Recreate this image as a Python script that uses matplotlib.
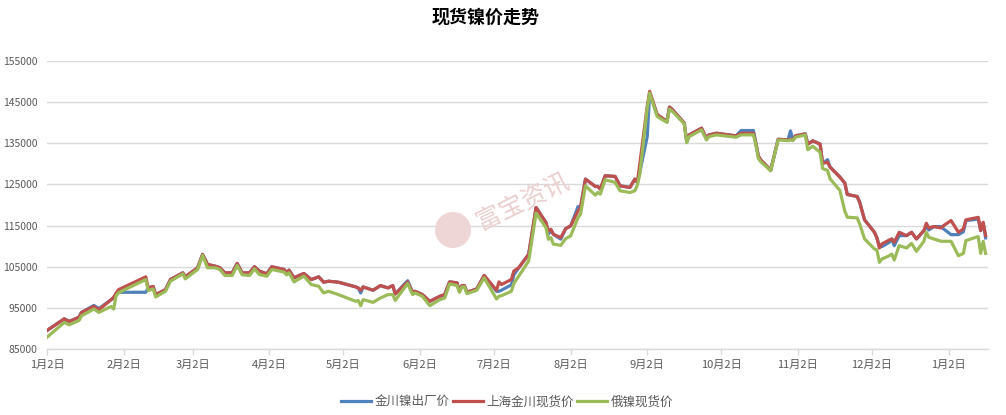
import pandas as pd
import matplotlib
matplotlib.use('Agg')
import matplotlib.pyplot as plt
from matplotlib.patches import Circle

plt.rcParams['font.family'] = ['Noto Sans CJK SC', 'DejaVu Sans']

# trading days
dates = [
    '2019-01-02', '2019-01-09', '2019-01-11', '2019-01-15', '2019-01-16', '2019-01-21', '2019-01-23',
    '2019-01-28', '2019-01-29', '2019-01-30', '2019-01-31', '2019-02-11', '2019-02-12', '2019-02-14',
    '2019-02-15', '2019-02-19', '2019-02-21', '2019-02-26', '2019-02-27', '2019-03-04', '2019-03-06',
    '2019-03-08', '2019-03-11', '2019-03-13', '2019-03-15', '2019-03-18', '2019-03-20', '2019-03-22',
    '2019-03-25', '2019-03-27', '2019-03-29', '2019-04-01', '2019-04-03', '2019-04-08', '2019-04-09',
    '2019-04-10', '2019-04-12', '2019-04-16', '2019-04-19', '2019-04-22', '2019-04-24', '2019-04-26',
    '2019-04-30', '2019-05-07', '2019-05-08', '2019-05-09', '2019-05-10', '2019-05-14', '2019-05-17',
    '2019-05-20', '2019-05-22', '2019-05-23', '2019-05-28', '2019-05-30', '2019-05-31', '2019-06-03',
    '2019-06-06', '2019-06-10', '2019-06-12', '2019-06-14', '2019-06-17', '2019-06-18', '2019-06-19',
    '2019-06-20', '2019-06-21', '2019-06-25', '2019-06-28', '2019-07-03', '2019-07-04', '2019-07-05',
    '2019-07-09', '2019-07-10', '2019-07-12', '2019-07-16', '2019-07-19', '2019-07-23', '2019-07-24',
    '2019-07-25', '2019-07-26', '2019-07-29', '2019-07-31', '2019-08-02', '2019-08-05', '2019-08-06',
    '2019-08-08', '2019-08-12', '2019-08-13', '2019-08-14', '2019-08-16', '2019-08-20', '2019-08-22',
    '2019-08-26', '2019-08-28', '2019-08-29', '2019-08-30', '2019-09-02', '2019-09-03', '2019-09-06',
    '2019-09-10', '2019-09-11', '2019-09-12', '2019-09-17', '2019-09-18', '2019-09-19', '2019-09-24',
    '2019-09-26', '2019-09-27', '2019-09-30', '2019-10-08', '2019-10-10', '2019-10-15', '2019-10-16',
    '2019-10-17', '2019-10-18', '2019-10-22', '2019-10-25', '2019-10-29', '2019-10-30', '2019-10-31',
    '2019-11-01', '2019-11-05', '2019-11-06', '2019-11-08', '2019-11-11', '2019-11-12', '2019-11-14',
    '2019-11-15', '2019-11-19', '2019-11-21', '2019-11-22', '2019-11-26', '2019-11-27', '2019-11-29',
    '2019-12-03', '2019-12-04', '2019-12-05', '2019-12-06', '2019-12-09', '2019-12-10', '2019-12-11',
    '2019-12-13', '2019-12-16', '2019-12-18', '2019-12-20', '2019-12-23', '2019-12-24', '2019-12-25',
    '2019-12-27', '2019-12-30', '2019-12-31', '2020-01-03', '2020-01-06', '2020-01-08', '2020-01-09',
    '2020-01-13', '2020-01-14', '2020-01-15', '2020-01-16', '2020-01-17',
]

# 上海金川现货价
shanghai = [
    89490, 92340, 91690, 92750, 93900, 95360, 94550,
    97000, 97600, 98600, 99440, 102540, 99850, 100200,
    98200, 99440, 101900, 103520, 102540, 104750, 108010,
    105560, 105150, 104750, 103520, 103520, 105800, 103520,
    103520, 105000, 103930, 103280, 104990, 104340, 103520,
    104180, 102300, 103360, 101890, 102540, 101240, 101480,
    101240, 100100, 99850, 99280, 100100, 99280, 100420,
    99850, 100420, 98380, 101320, 98790, 99030, 98220,
    96590, 97810, 98220, 101320, 101080, 99030, 100420,
    100420, 98790, 99610, 102870, 99280, 101320, 100670,
    101890, 103940, 104760, 108010, 119390, 115730, 113700,
    114100, 112890, 112070, 114270, 114920, 118580, 119390,
    126300, 124510, 124510, 123860, 127110, 126950, 124670,
    124270, 126300, 125490, 130000, 144000, 147650, 142000,
    140300, 143810, 143320, 139900, 135410, 137040, 138670,
    136220, 137040, 137450, 136800, 137450, 137450, 135000,
    131900, 130920, 128470, 135980, 135820, 136000, 135820,
    136800, 137290, 134760, 135600, 134800, 130100, 130450,
    129230, 126800, 125330, 122560, 122070, 120690, 116380,
    113370, 112000, 109550, 110530, 111500, 111750, 110940,
    113370, 112560, 113370, 111750, 113780, 115570, 114430,
    114760, 114430, 115000, 116220, 113370, 114190, 116380,
    116870, 117000, 113780, 115810, 112560,
]

# 金川镍出厂价
jinchuan = [
    89490, 92340, 91690, 92750, 93900, 95600, 94800,
    97000, 97400, 98400, 98790, 98790, 99850, 100200,
    98200, 99440, 101900, 103520, 102540, 104750, 108010,
    105560, 105150, 104750, 103520, 103520, 105800, 103520,
    103520, 105000, 103930, 103280, 104990, 104340, 103520,
    104180, 102300, 103360, 101890, 102540, 101240, 101480,
    101240, 100100, 99850, 98630, 100100, 99280, 100420,
    99850, 100420, 98380, 101600, 98790, 99030, 98220,
    96590, 97810, 98220, 101320, 101080, 99030, 100420,
    100420, 98790, 99610, 102870, 99030, 99030, 99300,
    100600, 103000, 104760, 108010, 119390, 115730, 112900,
    113900, 112890, 111700, 114270, 114920, 119630, 119390,
    126300, 124510, 124510, 123860, 127110, 126950, 124670,
    124270, 126300, 125490, 128000, 136630, 147200, 142000,
    140300, 143810, 143320, 139900, 135410, 137040, 138670,
    136220, 137040, 137450, 136800, 138100, 138100, 135000,
    131900, 130920, 128470, 135980, 135820, 138000, 135820,
    136800, 137290, 134760, 135600, 134800, 130100, 131020,
    129230, 126800, 125330, 122560, 122070, 120690, 116380,
    113370, 112000, 110000, 109880, 110940, 111750, 110120,
    112560, 112560, 113370, 111750, 113780, 114760, 113940,
    114760, 114760, 114190, 112800, 112800, 113500, 116220,
    116500, 116800, 113780, 115600, 112000,
]

# 俄镍现货价
russia = [
    87860, 91450, 90880, 91940, 93080, 94710, 93900,
    95360, 94710, 97980, 98700, 101890, 99200, 99600,
    97650, 99040, 101500, 103280, 102050, 104340, 107770,
    104750, 104750, 104340, 102870, 102870, 105320, 103040,
    102870, 104500, 103110, 102700, 104340, 103690, 103000,
    103500, 101320, 102710, 100670, 100260, 98630, 99030,
    98220, 96590, 96800, 95530, 97000, 96340, 97400,
    98220, 98220, 96830, 100910, 98220, 98630, 97810,
    95530, 97000, 97400, 100830, 100420, 98790, 100100,
    100100, 98460, 99280, 102300, 97160, 97810, 97970,
    99030, 100930, 102720, 106380, 118010, 114510, 111670,
    112070, 110500, 110200, 111830, 112480, 116950, 117760,
    124670, 122400, 123050, 122640, 126140, 125490, 123460,
    123050, 123460, 124840, 127500, 143500, 147240, 141530,
    140060, 143320, 142900, 139730, 135160, 136630, 138260,
    135820, 136630, 137040, 136470, 137040, 137040, 134590,
    131330, 130510, 128310, 135820, 135650, 135800, 135650,
    136470, 137040, 133450, 134300, 132800, 128880, 128410,
    126380, 123560, 118500, 117030, 116870, 115410, 111750,
    109310, 109070, 106060, 106870, 107680, 108090, 106630,
    110120, 109550, 110690, 108740, 111180, 113370, 112150,
    111750, 111180, 111180, 111180, 107680, 108250, 111340,
    112150, 112300, 108250, 111180, 108250,
]

tick_dates = pd.date_range('2019-01-01', '2020-01-01', freq='MS') + pd.Timedelta(days=1)
tick_labels = [f'{d.month}月2日' for d in tick_dates]
y_ticks = list(range(85000, 155001, 10000))

x = pd.to_datetime(dates)

fig = plt.figure(figsize=(10.06, 4.15), dpi=100)
ax = fig.add_axes([0.0467, 0.159, 0.9355, 0.694])

grey = '#d9d9d9'
text_col = '#595959'

# watermark (logo circle + text)
fig.patches.append(Circle((4.53, 1.85), 0.18, transform=fig.dpi_scale_trans,
                          facecolor='#eed6d6', edgecolor='none', zorder=0))
fig.text(0.52, 0.515, '富宝资讯', rotation=26, fontsize=18, color='#ebcfcf',
         ha='center', va='center', zorder=0)

ax.plot(x, jinchuan, color='#4F81BD', lw=2.3, label='金川镍出厂价', zorder=3)
ax.plot(x, shanghai, color='#C0504D', lw=2.3, label='上海金川现货价', zorder=4)
ax.plot(x, russia, color='#9BBB59', lw=2.3, label='俄镍现货价', zorder=5)

ax.set_ylim(85000, 155000)
ax.set_yticks(y_ticks)
ax.set_yticklabels([str(v) for v in y_ticks])
ax.set_xlim(pd.Timestamp('2019-01-02'), pd.Timestamp('2020-01-18'))
ax.set_xticks(tick_dates)
ax.set_xticklabels(tick_labels)

ax.patch.set_alpha(0)
ax.grid(axis='y', color=grey, lw=1)
ax.set_axisbelow(True)
for s in ['left', 'right', 'top']:
    ax.spines[s].set_visible(False)
ax.spines['bottom'].set_color(grey)
ax.spines['bottom'].set_linewidth(1)
ax.tick_params(axis='y', length=0, pad=7, labelsize=7.5, labelcolor=text_col)
ax.tick_params(axis='x', length=4, width=1, color=grey, pad=4, labelsize=8, labelcolor=text_col)

fig.text(0.483, 0.958, '现货镍价走势', fontsize=13, fontweight='bold', ha='center', va='center',
         color='#000000')

fig.legend(loc='center', bbox_to_anchor=(0.504, 0.032), ncol=3, frameon=False, fontsize=9,
           handlelength=2.4, handletextpad=0.25, columnspacing=0.3, labelcolor=text_col)

fig.savefig('out.png', dpi=100)
